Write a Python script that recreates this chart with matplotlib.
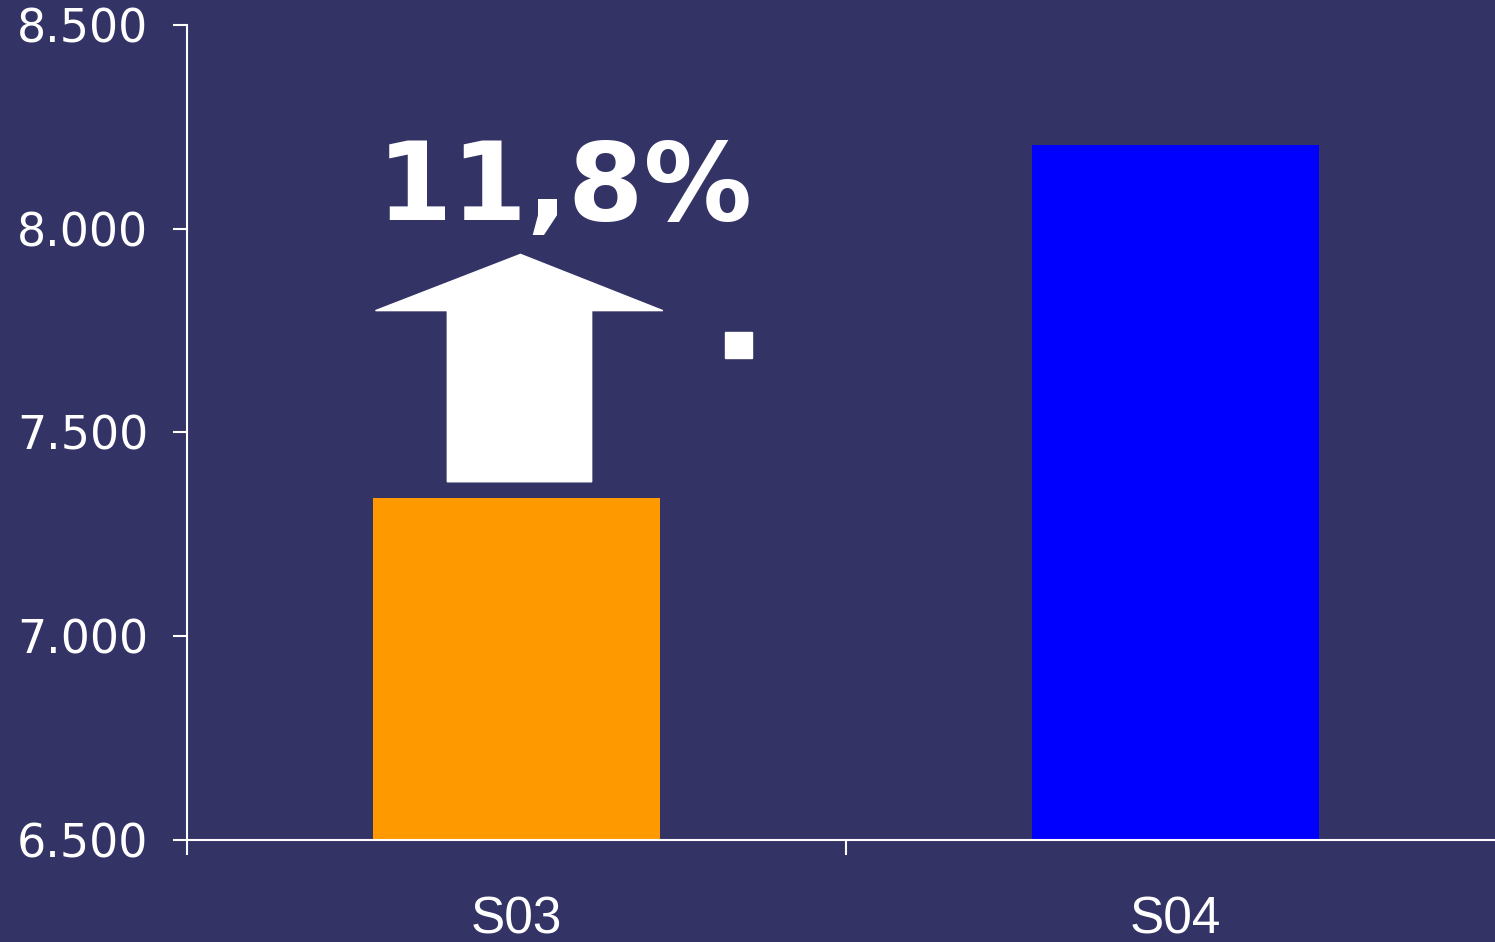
import numpy as np
import matplotlib.pyplot as plt
from matplotlib.patches import Polygon, Rectangle
from matplotlib.ticker import FuncFormatter

# data
categories = ['S03', 'S04']
values = [7339, 8205]
bar_colors = ['#FF9900', '#0000FF']
growth_label = '11,8%'

bg = '#343366'

fig = plt.figure(figsize=(14.95, 9.42), dpi=100, facecolor=bg)
# axes runs a little past the right edge of the figure, like the original
ax = fig.add_axes([0.1251, 0.1083, 0.8816, 0.8652])
ax.set_facecolor(bg)

x = np.arange(len(categories))
ax.bar(x, values, width=0.435, color=bar_colors, zorder=2)

ax.set_xlim(-0.5, 1.5)
ax.set_ylim(6500, 8500)
ax.set_yticks(np.arange(6500, 8501, 500))
ax.yaxis.set_major_formatter(FuncFormatter(lambda v, p: f'{int(v):,}'.replace(',', '.')))

# category boundaries as ticks, names as minor labels
ax.set_xticks([-0.5, 0.5, 1.5])
ax.set_xticklabels([])
ax.set_xticks(x, minor=True)
ax.set_xticklabels(categories, minor=True, fontsize=37,
                   family=['Liberation Sans', 'DejaVu Sans'], color='white')
ax.tick_params(axis='x', which='minor', length=0, pad=40)
ax.tick_params(axis='x', which='major', length=11, width=1.5, color='white')
ax.tick_params(axis='y', length=10, width=1.5, color='white', labelcolor='white',
               labelsize=33, pad=18)

for s in ['top', 'right']:
    ax.spines[s].set_visible(False)
for s in ['left', 'bottom']:
    ax.spines[s].set_color('white')
    ax.spines[s].set_linewidth(1.5)

# up arrow over the S03 bar
cx = x[0]
base = values[0] + 40
shoulder = base + 420
tip = base + 558
arrow = [(cx - 0.105, base), (cx + 0.114, base), (cx + 0.114, shoulder),
         (cx + 0.222, shoulder), (cx + 0.006, tip), (cx - 0.214, shoulder),
         (cx - 0.105, shoulder)]
ax.add_patch(Polygon(arrow, closed=True, color='white', zorder=3))
ax.add_patch(Rectangle((cx + 0.317, 7683), 0.041, 64, color='white', zorder=3))

ax.text(cx + 0.073, 8021, growth_label, color='white', fontsize=78,
        fontweight='bold', ha='center', va='baseline')

fig.savefig('out.png', dpi=100, facecolor=bg)
